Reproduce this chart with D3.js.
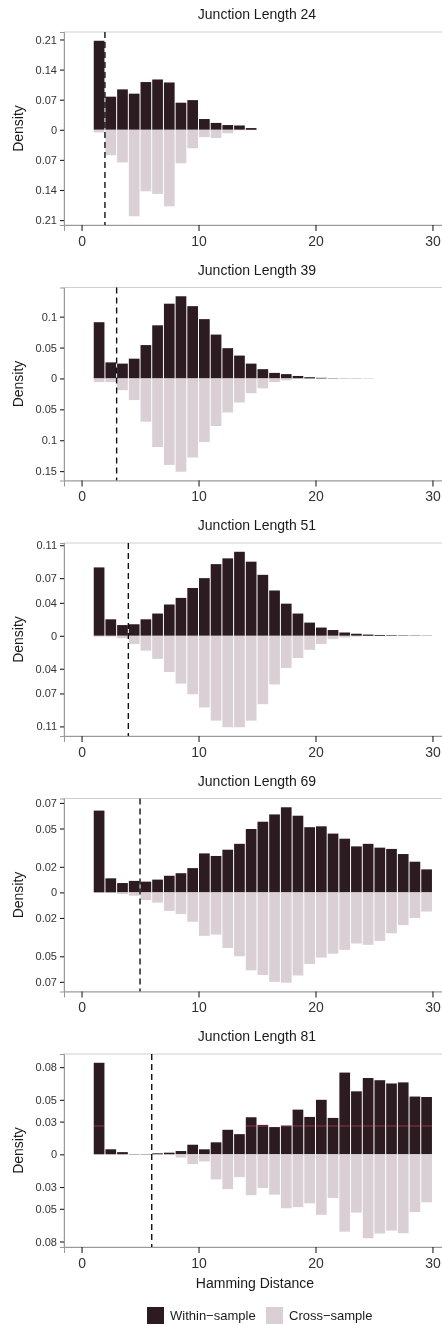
<!DOCTYPE html>
<html>
<head>
<meta charset="utf-8">
<script src="https://cdn.jsdelivr.net/npm/d3@7"></script>
<style>
  body { margin: 0; background: #fff; }
  svg { display: block; font-family: "Liberation Sans", Arial, sans-serif; }
</style>
</head>
<body>
<div id="chart"></div>
<script>
// hamming distance bins (left edge of each bar)
const bins = d3.range(1, 30);

const junctionLengths = [24, 39, 51, 69, 81];
const cutoffs = [2, 3, 4, 5, 6];
const xTicks = [0, 10, 20, 30];

const ticks24 = [0.07, 0.14, 0.21];
const ticks39 = [0.05, 0.1, 0.15];
const ticks51 = [0.04, 0.07, 0.11];
const ticks69 = [0.02, 0.05, 0.07];
const ticks81 = [0.03, 0.05, 0.08];

const within24 = [0.207, 0.077, 0.094, 0.084, 0.111, 0.117, 0.110, 0.063, 0.069, 0.025, 0.016, 0.011, 0.010, 0.004,
  0, 0, 0, 0, 0, 0, 0, 0, 0, 0, 0, 0, 0, 0, 0];
const cross24 = [0.006, 0.059, 0.076, 0.201, 0.143, 0.149, 0.178, 0.078, 0.043, 0.017, 0.019, 0.008, 0.001, 0,
  0, 0, 0, 0, 0, 0, 0, 0, 0, 0, 0, 0, 0, 0, 0];

const within39 = [0.091, 0.026, 0.024, 0.032, 0.054, 0.086, 0.121, 0.133, 0.117, 0.096, 0.071, 0.049, 0.037, 0.024,
  0.015, 0.009, 0.007, 0.004, 0.002, 0.001, 0.0005, 0.0003, 0.0003, 0.0002, 0, 0, 0, 0, 0];
const cross39 = [0.006, 0.006, 0.019, 0.035, 0.070, 0.111, 0.140, 0.151, 0.128, 0.103, 0.077, 0.055, 0.039, 0.024,
  0.016, 0.006, 0.003, 0.001, 0, 0, 0, 0, 0, 0, 0, 0, 0, 0, 0];

const within51 = [0.083, 0.020, 0.013, 0.014, 0.020, 0.027, 0.038, 0.046, 0.058, 0.070, 0.087, 0.094, 0.102, 0.090,
  0.074, 0.055, 0.039, 0.027, 0.016, 0.010, 0.007, 0.004, 0.0025, 0.0015, 0.001, 0.0007, 0.0005, 0.0004, 0.0003];
const cross51 = [0.001, 0.001, 0.003, 0.010, 0.018, 0.028, 0.044, 0.058, 0.071, 0.087, 0.103, 0.111, 0.111, 0.103,
  0.083, 0.059, 0.039, 0.027, 0.017, 0.010, 0.004, 0.002, 0.001, 0, 0, 0, 0, 0, 0];

const within69 = [0.064, 0.011, 0.0073, 0.009, 0.0084, 0.010, 0.013, 0.015, 0.019, 0.0305, 0.0285, 0.0334, 0.038, 0.0496,
  0.0553, 0.061, 0.0666, 0.060, 0.051, 0.0517, 0.046, 0.042, 0.036, 0.038, 0.035, 0.034, 0.030, 0.024, 0.018];
const cross69 = [0, 0, 0.0013, 0.0026, 0.006, 0.008, 0.0145, 0.017, 0.023, 0.034, 0.033, 0.0435, 0.050, 0.061,
  0.0646, 0.070, 0.0707, 0.065, 0.056, 0.051, 0.048, 0.045, 0.040, 0.041, 0.038, 0.032, 0.0256, 0.020, 0.015];

const within81 = [0.084, 0.0046, 0.002, 0.0003, 0.0003, 0.0009, 0.0015, 0.003, 0.0088, 0.0046, 0.011, 0.0225, 0.0185, 0.034,
  0.027, 0.025, 0.0264, 0.041, 0.0343, 0.050, 0.0334, 0.075, 0.0578, 0.070, 0.068, 0.065, 0.066, 0.053, 0.0526];
const cross81 = [0, 0, 0, 0, 0, 0, 0, 0.003, 0.009, 0.0065, 0.023, 0.032, 0.021, 0.0375,
  0.031, 0.037, 0.0495, 0.0485, 0.045, 0.0555, 0.040, 0.071, 0.0534, 0.077, 0.0727, 0.070, 0.0724, 0.053, 0.044];

const withinAll = [within24, within39, within51, within69, within81];
const crossAll = [cross24, cross39, cross51, cross69, cross81];
const ticksAll = [ticks24, ticks39, ticks51, ticks69, ticks81];

const legendLabels = ["Within\u2212sample", "Cross\u2212sample"];
const colors = ["#2c1b21", "#d9cfd5"];

const width = 442, height = 1325;
const plotLeft = 64, plotRight = 450;
const panelTop0 = 32, panelPitch = 255.5, panelH = 193;

const svg = d3.select('#chart').append('svg')
    .attr('width', width)
    .attr('height', height);

const x = d3.scaleLinear().domain([-1.5, 31.5]).range([plotLeft, plotRight]);

junctionLengths.forEach((jl, i) => {
    let within = withinAll[i];
    let cross = crossAll[i];
    let top = panelTop0 + i * panelPitch;
    let bottom = top + panelH;

    // mirrored y range, padded 5% like ggplot
    let maxW = d3.max(within), maxC = d3.max(cross);
    let pad = (maxW + maxC) * 0.05;
    let y = d3.scaleLinear().domain([-(maxC + pad), maxW + pad]).range([bottom, top]);

    let g = svg.append('g');

    g.append('text')
        .attr('x', (plotLeft + plotRight) / 2)
        .attr('y', top - 13)
        .attr('text-anchor', 'middle')
        .attr('font-size', 14)
        .attr('fill', '#1a1a1a')
        .text('Junction Length ' + jl);

    // panel border
    g.append('rect')
        .attr('x', plotLeft).attr('y', top)
        .attr('width', plotRight - plotLeft).attr('height', panelH)
        .attr('fill', 'none')
        .attr('stroke', '#c4c4c4')
        .attr('stroke-width', 0.8);

    g.selectAll('.within')
        .data(bins)
        .enter().append('rect')
        .attr('x', d => x(d) + 0.5)
        .attr('width', d => x(d + 1) - x(d) - 1)
        .attr('y', (d, k) => y(within[k]))
        .attr('height', (d, k) => y(0) - y(within[k]))
        .attr('fill', colors[0]);

    g.selectAll('.cross')
        .data(bins)
        .enter().append('rect')
        .attr('x', d => x(d) + 0.5)
        .attr('width', d => x(d + 1) - x(d) - 1)
        .attr('y', y(0))
        .attr('height', (d, k) => y(-cross[k]) - y(0))
        .attr('fill', colors[1]);

    if (i == 4) {
        // faint red streak seen over the dark bars in the last panel
        g.append('line')
            .attr('x1', x(1)).attr('x2', x(30))
            .attr('y1', y(0.026)).attr('y2', y(0.026))
            .attr('stroke', '#b23c4e')
            .attr('stroke-width', 0.8)
            .style('mix-blend-mode', 'lighten');
    }

    // cutoff line
    g.append('line')
        .attr('x1', x(cutoffs[i])).attr('x2', x(cutoffs[i]))
        .attr('y1', top).attr('y2', bottom)
        .attr('stroke', '#111')
        .attr('stroke-width', 1.4)
        .attr('stroke-dasharray', '6,4');

    // y axis: mirrored ticks, labels are absolute values
    let yTicks = [0].concat(ticksAll[i], ticksAll[i].map(t => -t))
        .filter(t => t >= y.domain()[0] && t <= y.domain()[1]);
    let yAxis = d3.axisLeft(y)
        .tickValues(yTicks)
        .tickSize(4)
        .tickPadding(3)
        .tickFormat(t => String(Math.abs(t)));
    let ya = g.append('g')
        .attr('transform', `translate(${plotLeft},0)`)
        .call(yAxis);
    ya.select('.domain').attr('stroke', '#999').attr('stroke-width', 1);
    ya.selectAll('.tick line').attr('stroke', '#222').attr('stroke-width', 1.1);
    ya.selectAll('.tick text').attr('font-size', 11).attr('fill', '#333');

    let xAxis = d3.axisBottom(x)
        .tickValues(xTicks)
        .tickSize(6)
        .tickPadding(5);
    let xa = g.append('g')
        .attr('transform', `translate(0,${bottom})`)
        .call(xAxis);
    xa.select('.domain').attr('stroke', '#999').attr('stroke-width', 1);
    xa.selectAll('.tick line').attr('stroke', '#222').attr('stroke-width', 1.1);
    xa.selectAll('.tick text').attr('font-size', 14).attr('fill', '#333');

    g.append('text')
        .attr('transform', `translate(23,${(top + bottom) / 2}) rotate(-90)`)
        .attr('text-anchor', 'middle')
        .attr('font-size', 14)
        .attr('fill', '#1a1a1a')
        .text('Density');

    if (i == 4) {
        g.append('text')
            .attr('x', (plotLeft + plotRight) / 2 - 2)
            .attr('y', bottom + 41)
            .attr('text-anchor', 'middle')
            .attr('font-size', 14)
            .attr('fill', '#1a1a1a')
            .text('Hamming Distance');
    }
});

// legend
let legendX = [147, 266];
let legend = svg.append('g');
legendLabels.forEach((lab, j) => {
    legend.append('rect')
        .attr('x', legendX[j]).attr('y', 1307)
        .attr('width', 17).attr('height', 17)
        .attr('fill', colors[j]);
    legend.append('text')
        .attr('x', legendX[j] + 23)
        .attr('y', 1320)
        .attr('font-size', 13)
        .attr('fill', '#1a1a1a')
        .text(lab);
});
</script>
</body>
</html>
